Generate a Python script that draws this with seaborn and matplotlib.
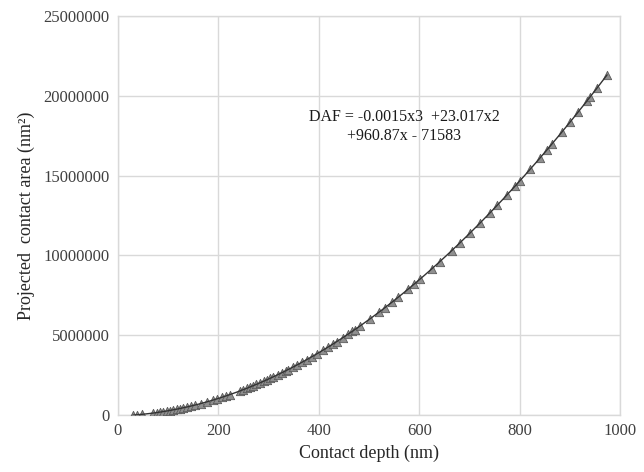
import numpy as np
import pandas as pd
import seaborn as sns
import matplotlib.pyplot as plt

# Contact depth (nm) and projected contact area (nm^2)
depth = [30, 38, 48, 70, 78, 84, 90, 97, 104, 110, 117, 124, 130, 137, 145, 153,
         165, 177, 189, 198, 207, 215, 223, 243, 250, 257, 263, 269, 276, 283, 290,
         297, 303, 309, 318, 327, 334, 339, 349, 357, 366, 376, 386, 396, 408, 418,
         428, 436, 448, 458, 466, 472, 482, 502, 520, 532, 545, 558, 578, 590, 602,
         625, 641, 665, 681, 701, 721, 741, 755, 775, 791, 801, 821, 840, 854, 864,
         884, 900, 916, 934, 940, 954, 974]
area = [10000, 15000, 30000, 105000, 140000, 175000, 200000, 240000, 270000, 315000,
        350000, 400000, 440000, 485000, 550000, 605000, 710000, 810000, 925000,
        1005000, 1105000, 1180000, 1275000, 1495000, 1590000, 1665000, 1750000,
        1820000, 1920000, 2005000, 2110000, 2200000, 2295000, 2375000, 2520000,
        2645000, 2765000, 2835000, 3010000, 3130000, 3295000, 3460000, 3650000,
        3820000, 4055000, 4240000, 4445000, 4595000, 4850000, 5050000, 5230000,
        5345000, 5575000, 6020000, 6445000, 6720000, 7050000, 7365000, 7890000,
        8195000, 8525000, 9150000, 9610000, 10300000, 10790000, 11390000, 12030000,
        12660000, 13135000, 13795000, 14350000, 14690000, 15405000, 16080000,
        16610000, 16970000, 17735000, 18340000, 18975000, 19680000, 19930000,
        20485000, 21320000]

df = pd.DataFrame({"Depth": depth, "Area": area})

# cubic trendline fitted to the points, like the spreadsheet trendline
coef = np.polyfit(df["Depth"], df["Area"], 3)
fit_x = np.linspace(min(depth), max(depth), 300)
fit_df = pd.DataFrame({"Depth": fit_x, "Area": np.polyval(coef, fit_x)})

sns.set_style("whitegrid", {"grid.color": "#d9d9d9", "axes.edgecolor": "#d9d9d9"})
plt.rcParams["font.family"] = ["Liberation Serif", "DejaVu Serif"]

fig = plt.figure(figsize=(6.44, 4.72), dpi=100)
ax = fig.add_axes([0.183, 0.121, 0.78, 0.845])

sns.scatterplot(data=df, x="Depth", y="Area", marker="^", s=36, color="#8f8f8f",
                edgecolor="#5a5a5a", linewidth=0.6, ax=ax, zorder=3)
sns.lineplot(data=fit_df, x="Depth", y="Area", color="#333333", linewidth=1.0,
             ax=ax, zorder=4)

ax.set_xlim(0, 1000)
ax.set_ylim(0, 25000000)
ax.set_xticks([0, 200, 400, 600, 800, 1000])
ax.set_yticks([0, 5000000, 10000000, 15000000, 20000000, 25000000])
ax.set_yticklabels(["0", "5000000", "10000000", "15000000", "20000000", "25000000"])
ax.tick_params(axis="both", length=0, labelsize=12, labelcolor="#404040", pad=6)
ax.grid(True, color="#d9d9d9", linewidth=1.0)
for s in ax.spines.values():
    s.set_color("#d9d9d9")
    s.set_linewidth(1.0)

ax.set_xlabel("Contact depth (nm)", fontsize=13, labelpad=4)
ax.set_ylabel("Projected  contact area (nm²)", fontsize=13, labelpad=6)

ax.text(570, 17000000, "DAF = -0.0015x3  +23.017x2\n+960.87x - 71583",
        ha="center", va="bottom", fontsize=11.5, linespacing=1.2, color="#1a1a1a")

fig.savefig("out.png", dpi=100)
